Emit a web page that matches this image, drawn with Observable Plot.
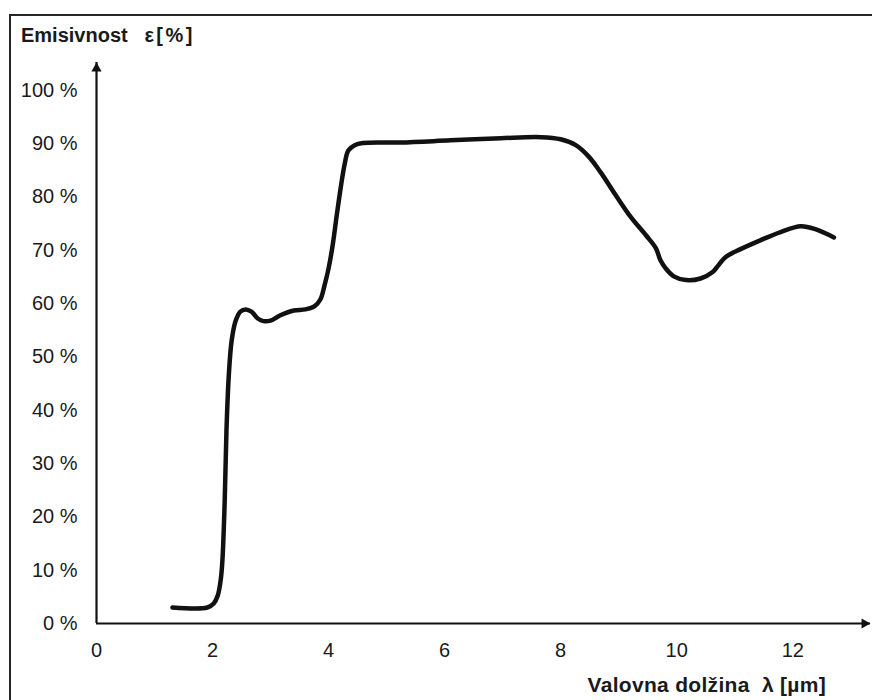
<!DOCTYPE html>
<html>
<head>
<meta charset="utf-8">
<script src="https://cdn.jsdelivr.net/npm/d3@7"></script>
<script src="https://cdn.jsdelivr.net/npm/@observablehq/plot@0.6"></script>
<style>
  html, body { margin: 0; padding: 0; background: #fff; overflow: hidden; }
  #wrap { position: relative; width: 872px; height: 700px; font-family: "Liberation Sans", Arial, sans-serif; }
  #border { position: absolute; left: 9px; top: 14px; width: 900px; height: 800px; border: 2px solid #262626; box-sizing: border-box; }
  .lbl { position: absolute; font-weight: bold; color: #1a1a1a; white-space: pre; line-height: 1.15; }
  #ylab { left: 21px; top: 24px; font-size: 20px; }
  #ylab span { letter-spacing: 2.5px; }
  #xlab { right: 46px; top: 673px; font-size: 21px; letter-spacing: 0.3px; }
</style>
</head>
<body>
<div id="wrap">
  <div id="border"></div>
  <div id="chart"></div>
  <div class="lbl" id="ylab">Emisivnost   <span>ε[%]</span></div>
  <div class="lbl" id="xlab">Valovna dolžina  λ [µm]</div>
</div>
<script>
const wavelength = [1.31, 1.91, 2.02, 2.09, 2.14, 2.17, 2.21, 2.24, 2.28, 2.33, 2.40, 2.48, 2.57, 2.67, 2.78, 2.88, 3.00, 3.17, 3.40, 3.60, 3.76, 3.86, 3.93, 4.00, 4.07, 4.14, 4.21, 4.28, 4.34, 4.45, 4.59, 5.24, 6.10, 6.97, 7.66, 8.00, 8.26, 8.48, 8.69, 8.95, 9.21, 9.47, 9.64, 9.72, 9.81, 9.95, 10.16, 10.41, 10.62, 10.72, 10.84, 11.10, 11.45, 11.79, 12.14, 12.40, 12.71];
const emissivity = [3.0, 3.0, 3.75, 5.25, 8.1, 11.8, 23.1, 36.2, 46.5, 53.1, 56.8, 58.5, 58.9, 58.5, 57.2, 56.7, 56.8, 57.8, 58.7, 58.9, 59.5, 60.8, 63.4, 66.6, 70.9, 76.5, 81.8, 86.3, 88.7, 89.7, 90.1, 90.2, 90.6, 91.0, 91.2, 90.8, 89.7, 87.6, 84.6, 80.3, 76.2, 72.8, 70.4, 68.1, 66.6, 65.1, 64.4, 64.7, 65.9, 67.2, 68.7, 70.2, 71.9, 73.4, 74.5, 73.9, 72.4];
const xTicks = [0, 2, 4, 6, 8, 10, 12];
const yTicks = [0, 10, 20, 30, 40, 50, 60, 70, 80, 90, 100];
const xMax = 13.34;
const yMax = 105.2;

const data = wavelength.map((x, i) => ({x, y: emissivity[i]}));

const chart = Plot.plot({
  width: 872,
  height: 700,
  marginLeft: 96,
  marginRight: 2,
  marginTop: 62,
  marginBottom: 77,
  style: {fontSize: "20px", fontFamily: "Liberation Sans, Arial, sans-serif", color: "#1a1a1a", background: "transparent", overflow: "visible"},
  x: {domain: [0, xMax]},
  y: {domain: [0, yMax]},
  marks: [
    Plot.axisX({ticks: xTicks, tickSize: 0, tickPadding: 19, tickFormat: d => String(d), label: null}),
    Plot.axisY({ticks: yTicks, tickSize: 0, tickPadding: 19, tickFormat: d => d + " %", label: null}),
    Plot.ruleX([0], {stroke: "#111", strokeWidth: 2.2}),
    Plot.ruleY([0], {stroke: "#111", strokeWidth: 2.2}),
    Plot.dot([{x: 0, y: yMax}], {x: "x", y: "y", symbol: "triangle", r: 3.8, fill: "#111", stroke: "none", dy: 6}),
    Plot.dot([{x: xMax, y: 0}], {x: "x", y: "y", symbol: "triangle", r: 3.8, fill: "#111", stroke: "none", rotate: 90, dx: -6}),
    Plot.line(data, {x: "x", y: "y", curve: "catmull-rom", stroke: "#111", strokeWidth: 4.5, strokeLinecap: "round", strokeLinejoin: "round"})
  ]
});
document.getElementById("chart").appendChild(chart);
</script>
</body>
</html>
